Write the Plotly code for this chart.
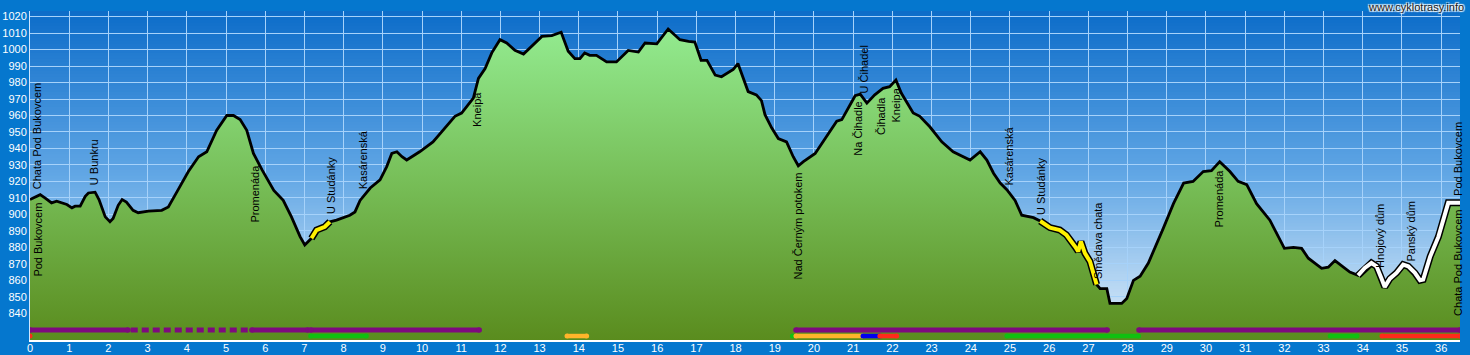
import numpy as np
import plotly.graph_objects as go

# ---------------- data ----------------
km = [0.00, 0.26, 0.38, 0.55, 0.68, 0.81, 0.94, 1.07, 1.15, 1.28, 1.41, 1.49, 1.66, 1.76, 1.92, 2.04, 2.12,
      2.25, 2.35, 2.46, 2.63, 2.76, 3.02, 3.36, 3.53, 3.78, 4.04, 4.30, 4.51, 4.76, 5.02, 5.19, 5.36, 5.53,
      5.70, 5.92, 6.12, 6.22, 6.46, 6.67, 6.89, 7.01, 7.18, 7.31, 7.52, 7.65, 7.82, 8.16, 8.29, 8.42, 8.68,
      8.93, 9.10, 9.23, 9.36, 9.49, 9.61, 9.94, 10.28, 10.54, 10.84, 11.01, 11.31, 11.44, 11.61, 11.78,
      11.99, 12.16, 12.37, 12.59, 12.80, 13.06, 13.31, 13.55, 13.73, 13.90, 14.03, 14.15, 14.28, 14.45,
      14.71, 14.96, 15.26, 15.52, 15.69, 15.99, 16.28, 16.58, 16.80, 16.96, 17.12, 17.27, 17.48, 17.64,
      17.94, 18.06, 18.32, 18.53, 18.66, 18.75, 18.92, 19.09, 19.30, 19.47, 19.60, 19.73, 20.03, 20.33,
      20.58, 20.71, 20.92, 21.05, 21.18, 21.35, 21.55, 21.76, 21.93, 22.09, 22.23, 22.53, 22.70, 22.96,
      23.26, 23.55, 23.98, 24.24, 24.41, 24.58, 24.75, 24.92, 25.13, 25.30, 25.60, 25.77, 26.02, 26.27,
      26.44, 26.66, 26.74, 26.81, 26.91, 27.04, 27.12, 27.21, 27.30, 27.47, 27.55, 27.85, 27.98, 28.15,
      28.32, 28.53, 28.91, 29.17, 29.43, 29.67, 29.93, 30.14, 30.35, 30.61, 30.82, 31.04, 31.29, 31.63,
      32.00, 32.23, 32.44, 32.61, 32.95, 33.12, 33.29, 33.67, 33.88, 34.05, 34.22, 34.35, 34.48, 34.56,
      34.69, 34.86, 35.03, 35.16, 35.33, 35.46, 35.54, 35.72, 35.93, 36.10, 36.18, 36.44, 36.48]
elev = [909, 912, 910, 907, 908, 907, 906, 904, 905, 905, 911, 913, 913.5, 909, 898.5, 895.5, 897.5,
        905.5, 909, 907.5, 902.5, 901, 902, 902.5, 904.5, 915, 926, 935, 938, 951, 960, 960, 957.5, 951,
        937, 927, 919, 914.5, 908.5, 898.5, 886.5, 881.5, 885.5, 890.5, 892.5, 895.5, 896.5, 899.5, 901.5,
        908.5, 916, 921, 929, 937, 938, 935, 933, 938, 944, 951, 959.5, 961.5, 970.5, 982.5, 988.5, 998,
        1006, 1004, 999.5, 997.3, 1002, 1008, 1008.5, 1010.5, 999, 994.5, 994.5, 998, 996.5, 996.5,
        992.5, 992.5, 999.5, 998.5, 1004, 1003.5, 1012.5, 1006, 1005, 1004.5, 993.5, 993.5, 984.5, 983.5,
        988, 991.5, 974.5, 972.5, 969, 960.5, 952.5, 946, 944, 935, 929.5, 932, 937, 948,
        956.5, 957.5, 966.5, 972, 973, 967.5, 972.5, 976.5, 977.5, 981.5, 973.5, 961.5, 959.5, 953,
        944, 938, 933, 938, 933, 925, 919, 915, 908.5, 899.5, 898, 896, 892, 890.5,
        887.5, 880.5, 877.5, 883.5, 876.5, 871.5, 864.5, 857.5, 855, 855, 846, 846, 849, 860,
        862.5, 870.5, 891.5, 906.5, 919, 920, 926, 926.5, 932, 926, 920, 918, 906.5, 896.5,
        879.4, 880, 879.4, 873.4, 867.3, 868, 872, 865, 863, 867.5, 870.5, 868.5, 861, 856,
        861, 864.5, 869.5, 868.5, 864.5, 860, 860.5, 874.5, 886.5, 901.5, 907, 907, 907]

# highlighted parts of the route
hl_start = [7.18, 25.77, 33.88]
hl_end = [7.65, 27.21, 36.48]
hl_kind = ["yellow", "yellow", "white"]

# route category strip, upper row
row1_start = [0.00, 5.66, 7.16, 19.54, 28.29]
row1_end = [2.50, 7.09, 11.46, 27.48, 36.48]
row1_dash_start = [2.57]
row1_dash_end = [5.57]

# route category strip, lower row
row2_start = [0.00, 7.16, 13.70, 19.45, 19.54, 21.25, 21.68, 24.92, 33.17, 34.49]
row2_end = [0.00, 8.58, 14.20, 19.45, 21.25, 21.68, 22.11, 28.28, 33.85, 36.48]
row2_kind = ["red", "green", "orange", "green", "orange", "blue", "red", "green", "green", "red"]

# waypoints
wp_name = ["Pod Bukovcem", "Chata Pod Bukovcem", "U Bunkru", "Promenáda", "U Studánky", "Kasárenská",
           "Kneipa", "Nad Černým potokem", "Na Čihadle", "U Čihadel", "Čihadla", "Kneipa", "Kasárenská",
           "U Studánky", "Smědava chata", "Promenáda", "Hnojový dům", "Panský dům", "Pod Bukovcem",
           "Chata Pod Bukovcem"]
wp_km = [0.20, 0.18, 1.63, 5.75, 7.68, 8.50, 11.40, 19.59, 21.12, 21.30, 21.71, 22.09, 24.97, 25.79,
         27.25, 30.33, 34.44, 35.23, 36.43, 36.43]
wp_side = ["below", "above", "above", "below", "above", "above", "below", "below", "below", "above",
           "below", "below", "above", "above", "above", "below", "above", "above", "above", "below"]

x_ticks = list(range(0, 37))
y_ticks = list(range(840, 1021, 10))

# ---------------- styling ----------------
FONT = "Liberation Sans, Arial, sans-serif"
X_RANGE = [0, 36.48]
Y_RANGE = [823.8, 1023.4]
ROW1_Y = 829.9
ROW2_Y = 826.2
KIND_COLORS = {"red": "#FF2A1A", "green": "#10C010", "orange": "#FFB52A", "blue": "#0000F0",
               "yellow": "#FFF200", "white": "#FFFFFF"}
PURPLE = "#7E0A7E"

km_a = np.array(km)
el_a = np.array(elev)

fig = go.Figure()

# terrain
fig.add_trace(go.Scatter(
    x=km, y=elev, mode="lines", fill="tozeroy",
    line=dict(color="black", width=2.8),
    fillgradient=dict(type="vertical", start=Y_RANGE[0], stop=Y_RANGE[1],
                      colorscale=[[0, "#5A8C1E"], [0.5, "#78C05A"], [1, "#96F096"]]),
    hoverinfo="skip", showlegend=False))

# highlighted sections
for s, e, k in zip(hl_start, hl_end, hl_kind):
    m = (km_a >= s - 1e-9) & (km_a <= e + 1e-9)
    fig.add_trace(go.Scatter(x=km_a[m], y=el_a[m], mode="lines",
                             line=dict(color="black", width=7), hoverinfo="skip", showlegend=False))
    fig.add_trace(go.Scatter(x=km_a[m], y=el_a[m], mode="lines",
                             line=dict(color=KIND_COLORS[k], width=4), hoverinfo="skip", showlegend=False))


# category strips: one line trace per colour (segments separated by None),
# plus end-cap dots to imitate rounded line ends
def strip_group(starts, ends, y, color, width, dash="solid", caps=True):
    lx, ly, mx, my = [], [], [], []
    for s, e in zip(starts, ends):
        if e > s:
            lx += [s, e, None]
            ly += [y, y, None]
            if caps:
                mx += [s, e]
                my += [y, y]
        else:
            mx.append(s)
            my.append(y)
    if lx:
        fig.add_trace(go.Scatter(x=lx, y=ly, mode="lines", connectgaps=False,
                                 line=dict(color=color, width=width, dash=dash),
                                 hoverinfo="skip", showlegend=False))
    if mx:
        fig.add_trace(go.Scatter(x=mx, y=my, mode="markers",
                                 marker=dict(color=color, size=width + 0.5, line_width=0),
                                 hoverinfo="skip", showlegend=False))


strip_group(row1_start, row1_end, ROW1_Y, PURPLE, 5)
strip_group(row1_dash_start, row1_dash_end, ROW1_Y, PURPLE, 5, dash="7px,4px", caps=False)
for kind in ["green", "orange", "blue", "red"]:
    ss = [s for s, k in zip(row2_start, row2_kind) if k == kind]
    ee = [e for e, k in zip(row2_end, row2_kind) if k == kind]
    strip_group(ss, ee, ROW2_Y, KIND_COLORS[kind], 4.5)

# waypoint labels
annotations = []
for name, x, side in zip(wp_name, wp_km, wp_side):
    yv = float(np.interp(x, km_a, el_a))
    annotations.append(dict(
        x=x, y=yv, xref="x", yref="y", text=name, textangle=-90, showarrow=False,
        font=dict(family=FONT, size=11, color="black"),
        xanchor="center", yanchor="bottom" if side == "above" else "top",
        yshift=6 if side == "above" else -6, borderpad=0))

annotations.append(dict(
    x=1.0045, y=1.0125, xref="paper", yref="paper", text="www.cyklotrasy.info", showarrow=False,
    xanchor="right", yanchor="middle",
    font=dict(family=FONT, size=11, color="#202020",
              shadow="1px 1px 1px #ffffff, -1px -1px 1px #ffffff, 1px -1px 1px #ffffff, -1px 1px 1px #ffffff")))


# plot background gradient (drawn below grid)
def hex2rgb(h):
    h = h.lstrip("#")
    return np.array([int(h[i:i + 2], 16) for i in (0, 2, 4)], dtype=float)


bg_stops = [(0.0, hex2rgb("#E2EFFA")), (0.5, hex2rgb("#62A7E5")), (1.0, hex2rgb("#0C6CC9"))]
shapes = []
N = 110
for i in range(N):
    f = (i + 0.5) / N
    for (a, ca), (b, cb) in zip(bg_stops[:-1], bg_stops[1:]):
        if a <= f <= b:
            t = (f - a) / (b - a)
            c = ca + (cb - ca) * t
            break
    shapes.append(dict(type="rect", xref="paper", yref="paper", x0=0, x1=1,
                       y0=i / N, y1=min(1, (i + 1.6) / N),
                       fillcolor="rgb(%d,%d,%d)" % tuple(c.round()), line_width=0, layer="below"))

fig.update_layout(
    width=1470, height=355,
    margin=dict(l=30, r=10, t=11, b=15, pad=0, autoexpand=False),
    paper_bgcolor="#0577CE",
    plot_bgcolor="rgba(0,0,0,0)",
    shapes=shapes,
    annotations=annotations,
    showlegend=False,
    font=dict(family=FONT, size=11, color="white"),
)
fig.update_xaxes(range=X_RANGE, tickvals=x_ticks, ticktext=[str(v) for v in x_ticks],
                 showgrid=True, gridcolor="#A6D2FA", gridwidth=1, automargin=False,
                 showline=True, linecolor="white", linewidth=1.5, mirror=False,
                 ticks="", ticklabelstandoff=-3, tickfont=dict(family=FONT, size=11, color="white"),
                 zeroline=False, fixedrange=True)
fig.update_yaxes(range=Y_RANGE, tickvals=y_ticks, ticktext=[str(v) for v in y_ticks],
                 showgrid=True, gridcolor="#A6D2FA", gridwidth=1, automargin=False,
                 showline=True, linecolor="#CFE6FF", linewidth=1,
                 ticks="", ticklabelstandoff=0, tickfont=dict(family=FONT, size=11, color="white"),
                 zeroline=False, fixedrange=True)

fig.write_html("out.html")
